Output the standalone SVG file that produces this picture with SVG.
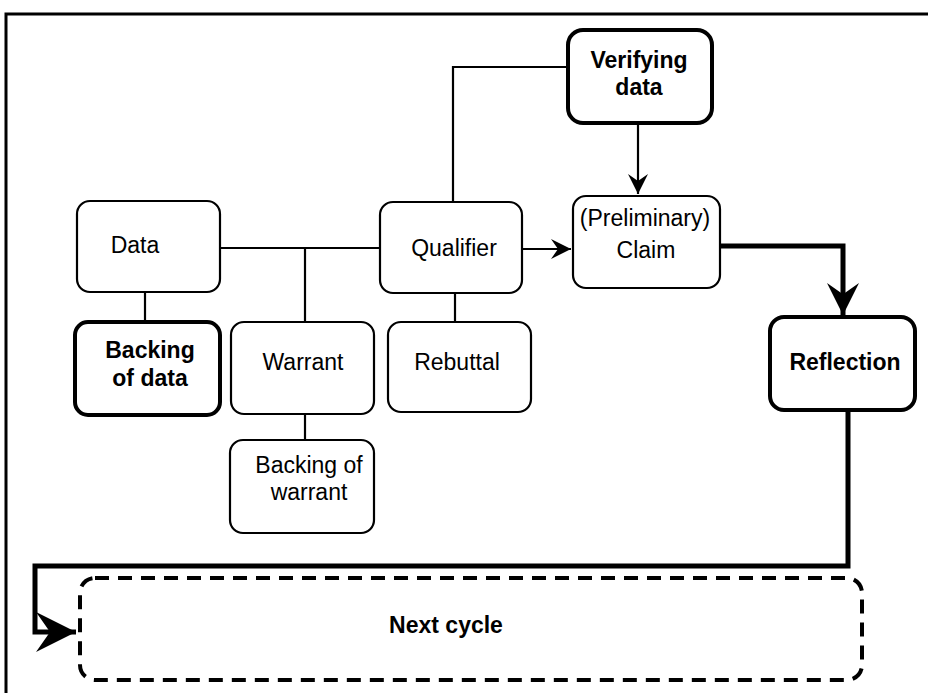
<svg xmlns="http://www.w3.org/2000/svg" width="928" height="693" viewBox="0 0 928 693">
<style>
.box{fill:#fff;stroke:#000;stroke-width:2.2}
.bold{fill:#fff;stroke:#000;stroke-width:4}
.t{font-family:"Liberation Sans",Arial,sans-serif;font-size:23px;fill:#000;text-anchor:middle}
.tb{font-weight:bold}
.c{fill:none;stroke:#000;stroke-width:2.2}
.ck{fill:none;stroke:#000;stroke-width:5}
</style>
<defs>
<marker id="a" viewBox="0 0 20 20" markerWidth="20" markerHeight="20" refX="20" refY="10" orient="auto" markerUnits="userSpaceOnUse">
<path d="M0,0 L20,10 L0,20 L7,10 z" fill="#000"/>
</marker>
<marker id="ak" viewBox="0 0 20 20" markerWidth="32" markerHeight="32" refX="20" refY="10" orient="auto" markerUnits="userSpaceOnUse">
<path d="M0,0 L20,10 L0,20 L7,10 z" fill="#000"/>
</marker>
<marker id="am" viewBox="0 0 20 20" markerWidth="40" markerHeight="40" refX="20" refY="10" orient="auto" markerUnits="userSpaceOnUse">
<path d="M0,0 L20,10 L0,20 L7,10 z" fill="#000"/>
</marker>
</defs>
<rect x="0" y="0" width="928" height="693" fill="#fff"/>
<rect x="6" y="14" width="1000" height="1000" fill="none" stroke="#000" stroke-width="3"/>
<g id="connectors">
<path class="c" d="M220,248 H380"/>
<path class="c" d="M305,248 V322"/>
<path class="c" d="M305,414 V440"/>
<path class="c" d="M145,292 V322"/>
<path class="c" d="M455,293 V322"/>
<path class="c" d="M453,202 V67 H568"/>
<path class="c" d="M638,123 V194" marker-end="url(#a)"/>
<path class="c" d="M522,249 H571" marker-end="url(#a)"/>
<path class="ck" d="M720,246 H843 V315" marker-end="url(#ak)"/>
<path class="ck" d="M848,410 V566 H35 V632 H76" marker-end="url(#am)"/>
</g>
<g id="verifying">
<rect class="bold" x="568" y="30" width="144" height="93" rx="15"/>
<text class="t tb" x="639" y="68">Verifying</text>
<text class="t tb" x="639" y="95">data</text>
</g>
<g id="data">
<rect class="box" x="77" y="201" width="143" height="91" rx="13"/>
<text class="t" x="135" y="253">Data</text>
</g>
<g id="backing-data">
<rect class="bold" x="75" y="322" width="145" height="93" rx="13"/>
<text class="t tb" x="150" y="358">Backing</text>
<text class="t tb" x="150" y="386">of data</text>
</g>
<g id="warrant">
<rect class="box" x="231" y="322" width="143" height="92" rx="13"/>
<text class="t" x="303" y="370">Warrant</text>
</g>
<g id="backing-warrant">
<rect class="box" x="230" y="440" width="144" height="93" rx="13"/>
<text class="t" x="309" y="473">Backing of</text>
<text class="t" x="309" y="500">warrant</text>
</g>
<g id="qualifier">
<rect class="box" x="380" y="202" width="142" height="91" rx="13"/>
<text class="t" x="454" y="256">Qualifier</text>
</g>
<g id="rebuttal">
<rect class="box" x="388" y="322" width="143" height="90" rx="13"/>
<text class="t" x="457" y="370">Rebuttal</text>
</g>
<g id="claim">
<rect class="box" x="573" y="196" width="147" height="92" rx="13"/>
<text class="t" x="645" y="226">(Preliminary)</text>
<text class="t" x="646" y="258">Claim</text>
</g>
<g id="reflection">
<rect class="bold" x="770" y="317" width="145" height="93" rx="14"/>
<text class="t tb" x="845" y="370">Reflection</text>
</g>
<g id="next-cycle">
<rect x="80" y="578" width="782" height="102" rx="15" fill="none" stroke="#000" stroke-width="4" stroke-dasharray="14 9"/>
<text class="t tb" x="446" y="633">Next cycle</text>
</g>
</svg>
